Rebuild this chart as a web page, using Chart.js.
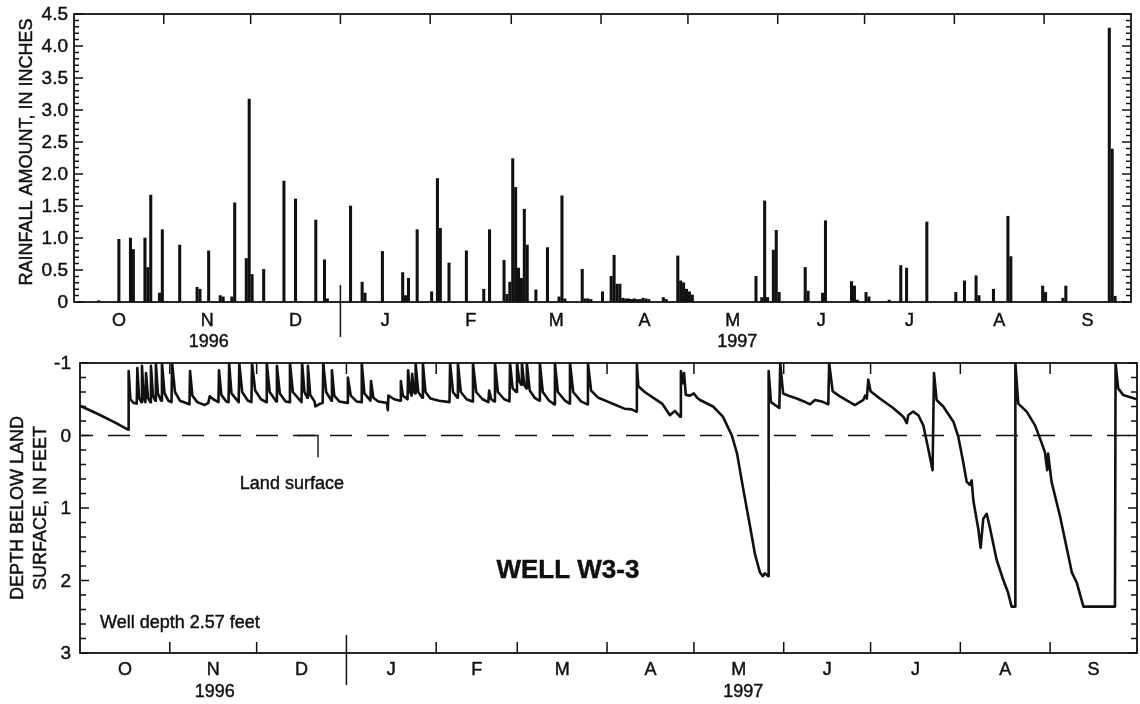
<!DOCTYPE html>
<html>
<head>
<meta charset="utf-8">
<title>Well W3-3</title>
<script src="https://cdn.jsdelivr.net/npm/chart.js"></script>
<style>
  body { margin: 0; background: #fff; }
  #page { position: relative; width: 1140px; height: 704px; }
  canvas { position: absolute; left: 0; }
</style>
</head>
<body>
<div id="page">
  <canvas id="rain" width="1140" height="350" style="top:0"></canvas>
  <canvas id="well" width="1140" height="354" style="top:350px"></canvas>
</div>
<script>
const FONT = '"Liberation Sans", Arial, Helvetica, sans-serif';
const INK = '#111';

// days counted from 1 Oct 1996
const monthLetters = ['O', 'N', 'D', 'J', 'F', 'M', 'A', 'M', 'J', 'J', 'A', 'S'];
const monthStarts = [0, 31, 61, 92, 123, 151, 182, 212, 243, 273, 304, 335, 365];
const yearLabels = ['1996', '1997'];
const yearLabelDays = [46.5, 229];
const newYearDay = 92;

const rainTicks = [0, 0.5, 1, 1.5, 2, 2.5, 3, 3.5, 4, 4.5];
const depthTicks = [-1, 0, 1, 2, 3];

// daily rainfall, inches
const rainDay = [8, 15, 19, 20, 24, 25, 26, 29, 30, 36, 42, 43, 46, 50, 51, 54, 55, 59, 60, 61,
  65, 72, 76, 83, 86, 87, 95, 99, 100, 106, 113, 114, 115, 118, 123, 125, 126, 129, 135, 141,
  143, 148, 149, 150, 151, 152, 153, 154, 155, 156, 159, 163, 167, 168, 169, 175, 176, 177, 178, 182,
  185, 186, 187, 188, 189, 190, 191, 192, 193, 194, 195, 196, 197, 198, 203, 204, 208, 209, 210, 211,
  212, 213, 235, 237, 238, 239, 241, 242, 243, 252, 253, 258, 259, 268, 269, 270, 273, 274, 281, 285,
  287, 294, 304, 307, 311, 312, 317, 322, 323, 334, 335, 341, 342, 357, 358, 359];
const rainInches = [0.02, 0.98, 1.00, 0.82, 1.00, 0.54, 1.67, 0.14, 1.13, 0.89, 0.23, 0.20, 0.80, 0.10, 0.08, 0.08, 1.55, 0.68, 3.17, 0.43,
  0.51, 1.89, 1.61, 1.28, 0.66, 0.05, 1.50, 0.31, 0.14, 0.79, 0.46, 0.10, 0.37, 1.13, 0.16, 1.93, 1.15, 0.61, 0.80, 0.20,
  1.13, 0.65, 0.12, 0.31, 2.24, 1.79, 0.53, 0.37, 1.45, 0.89, 0.19, 0.85, 0.08, 1.66, 0.05, 0.51, 0.05, 0.05, 0.04, 0.16,
  0.40, 0.73, 0.28, 0.28, 0.06, 0.05, 0.05, 0.04, 0.05, 0.04, 0.04, 0.06, 0.05, 0.04, 0.07, 0.04, 0.72, 0.33, 0.30, 0.20,
  0.16, 0.11, 0.40, 0.07, 1.58, 0.07, 0.81, 1.12, 0.15, 0.54, 0.17, 0.14, 1.27, 0.32, 0.25, 0.03, 0.15, 0.08, 0.03, 0.57,
  0.53, 1.25, 0.15, 0.33, 0.41, 0.10, 0.20, 1.34, 0.71, 0.25, 0.15, 0.06, 0.25, 4.28, 2.39, 0.09];

// water level, feet below land surface
const wellDay = [0, 6, 12, 16.6, 16.8, 17.4, 18.5, 19.6, 19.8, 20.4, 21.2, 21.4, 22.0, 22.6, 22.8, 23.5, 24.3, 24.5, 25.2, 26.0,
  26.2, 26.9, 28.0, 28.3, 29.2, 30.5, 31.6, 31.8, 32.8, 34.5, 37.8, 38.0, 38.8, 40.5, 43.0, 44.3, 44.8, 46.0, 47.8, 48.0,
  48.8, 50.5, 51.3, 51.5, 52.3, 54.8, 55.0, 56.0, 58.0, 59.2, 59.4, 60.5, 62.5, 64.3, 64.5, 65.5, 67.8, 68.0, 69.0, 71.0,
  72.3, 72.5, 73.5, 76.5, 76.7, 77.5, 78.5, 78.7, 79.5, 81.0, 81.3, 82.5, 83.8, 84.0, 85.0, 86.8, 87.0, 87.8, 89.5, 92.3,
  92.5, 93.5, 95.5, 97.1, 97.3, 98.2, 100.3, 100.5, 101.3, 103.0, 106.0, 106.3, 106.5, 108.5, 110.6, 110.8, 111.5, 113.1, 113.3, 114.0,
  114.5, 114.7, 115.3, 115.7, 115.9, 116.8, 118.2, 118.4, 119.3, 121.0, 124.0, 127.6, 127.8, 128.8, 130.3, 130.5, 131.5, 133.5, 135.5, 135.7,
  136.8, 139.0, 141.0, 141.3, 142.0, 143.1, 143.3, 144.3, 146.5, 148.3, 148.5, 149.4, 150.7, 150.9, 151.7, 152.4, 152.6, 153.4, 154.1, 154.3,
  155.3, 157.0, 158.6, 158.8, 159.8, 162.0, 163.8, 164.0, 165.0, 167.5, 169.0, 169.2, 170.3, 173.0, 175.2, 175.4, 176.5, 179.0, 182.0, 185.0,
  188.0, 190.5, 192.1, 192.3, 192.8, 195.0, 198.0, 201.0, 203.7, 205.4, 207.2, 207.5, 208.2, 208.6, 209.2, 210.6, 212.0, 213.1, 214.1, 218.6,
  222.0, 225.1, 226.9, 228.9, 231.4, 233.1, 234.8, 235.8, 236.5, 237.6, 237.8, 238.6, 241.5, 241.8, 242.8, 245.2, 247.5, 250.0, 252.1, 253.8,
  256.1, 258.4, 258.7, 259.9, 262.4, 267.6, 270.5, 271.1, 271.7, 272.2, 273.0, 276.2, 280.8, 284.3, 285.5, 286.0, 287.7, 289.5, 291.2, 292.9,
  294.4, 294.9, 295.8, 298.1, 301.6, 303.3, 305.0, 306.2, 307.3, 307.9, 308.5, 310.2, 311.0, 311.9, 313.1, 314.2, 316.5, 318.8, 320.5, 321.7,
  322.9, 323.0, 324.0, 326.9, 329.8, 331.5, 333.2, 334.0, 334.3, 335.5, 338.4, 341.3, 342.5, 344.2, 346.5, 357.4, 357.6, 358.5, 360.2, 365];
const wellDepth = [-0.41, -0.30, -0.18, -0.08, -0.89, -0.50, -0.45, -0.44, -0.93, -0.52, -0.46, -0.96, -0.52, -0.46, -0.86, -0.52, -0.46, -0.96, -0.55, -0.48,
  -1.0, -0.58, -0.48, -1.0, -0.58, -0.48, -0.46, -1.0, -0.60, -0.48, -0.43, -0.89, -0.55, -0.46, -0.42, -0.45, -0.54, -0.50, -0.46, -0.90,
  -0.56, -0.47, -0.46, -1.0, -0.58, -0.46, -1.0, -0.60, -0.48, -0.46, -1.0, -0.62, -0.50, -0.46, -1.0, -0.60, -0.47, -0.96, -0.58, -0.47,
  -0.46, -1.0, -0.60, -0.46, -1.0, -0.60, -0.52, -0.96, -0.56, -0.47, -0.40, -0.43, -0.45, -1.0, -0.60, -0.48, -0.90, -0.55, -0.47, -0.45,
  -0.80, -0.55, -0.47, -0.46, -1.0, -0.58, -0.48, -0.75, -0.52, -0.47, -0.45, -0.35, -0.55, -0.50, -0.48, -0.75, -0.55, -0.50, -0.90, -0.60,
  -0.55, -0.85, -0.60, -0.58, -1.0, -0.60, -0.52, -1.0, -0.60, -0.51, -0.48, -0.46, -1.0, -0.60, -0.52, -1.0, -0.60, -0.50, -0.47, -1.0,
  -0.60, -0.50, -0.46, -0.62, -0.50, -0.47, -1.0, -0.60, -0.50, -0.47, -1.0, -0.65, -0.60, -1.0, -0.75, -0.70, -1.0, -0.70, -0.65, -1.0,
  -0.62, -0.52, -0.48, -1.0, -0.60, -0.48, -0.43, -1.0, -0.60, -0.48, -0.44, -1.0, -0.60, -0.47, -0.43, -1.0, -0.62, -0.52, -0.47, -0.42,
  -0.37, -0.36, -0.33, -0.98, -0.68, -0.60, -0.52, -0.44, -0.28, -0.34, -0.26, -0.89, -0.72, -0.86, -0.56, -0.55, -0.58, -0.52, -0.49, -0.40,
  -0.26, 0.00, 0.25, 0.71, 1.26, 1.64, 1.89, 1.94, 1.90, 1.94, -0.89, -0.46, -0.38, -1.0, -0.58, -0.54, -0.51, -0.47, -0.43, -0.49,
  -0.47, -0.43, -1.0, -0.61, -0.54, -0.42, -0.49, -0.55, -0.51, -0.77, -0.61, -0.51, -0.38, -0.26, -0.17, -0.28, -0.33, -0.28, -0.14, 0.18,
  0.48, -0.86, -0.49, -0.40, -0.19, 0.02, 0.37, 0.64, 0.68, 0.62, 0.90, 1.29, 1.55, 1.15, 1.08, 1.27, 1.71, 1.99, 2.17, 2.36,
  2.36, -1.0, -0.44, -0.33, -0.14, 0.04, 0.23, 0.48, 0.25, 0.64, 1.11, 1.66, 1.89, 2.03, 2.36, 2.36, -1.0, -0.65, -0.56, -0.50];

// land surface leader, in chart units
const leaderDays = [74.9, 82.2, 82.2];
const leaderDepths = [0, 0, 0.3];

const notes = [
  { text: 'Land surface', day: 55.2, depth: 0.67, bold: false },
  { text: 'Well depth 2.57 feet', day: 6.9, depth: 2.58, bold: false },
  { text: 'WELL W3-3', day: 168.5, depth: 1.86, bold: true }
];

// scanned print looks heavy, so give text a hairline outline
function inkText(ctx, s, x, y) {
  ctx.fillText(s, x, y);
  ctx.strokeText(s, x, y);
}

// frame, inward ticks, labels and titles drawn off the chart's own scales
function axesPlugin(o) {
  return {
    id: 'handAxes',
    afterDatasetsDraw(chart) {
      const { ctx, chartArea: a } = chart;
      const x = chart.scales.x, y = chart.scales.y;
      ctx.save();
      ctx.strokeStyle = INK;
      ctx.fillStyle = INK;
      ctx.lineWidth = 1.5;
      ctx.beginPath();
      const n = Math.round((o.yMax - o.yMin) / o.minor);
      for (let i = 0; i <= n; i++) {
        const v = o.yMin + i * o.minor;
        const py = y.getPixelForValue(v);
        const major = Math.abs(v / o.major - Math.round(v / o.major)) < 1e-6;
        const len = major ? o.majorLen : o.minorLen;
        ctx.moveTo(a.left, py); ctx.lineTo(a.left + len, py);
        ctx.moveTo(a.right, py); ctx.lineTo(a.right - len, py);
      }
      monthStarts.slice(1, -1).forEach(d => {
        const px = x.getPixelForValue(d);
        if (o.topTicks) { ctx.moveTo(px, a.top); ctx.lineTo(px, a.top + o.monthLen); }
        if (o.bottomTicks) { ctx.moveTo(px, a.bottom); ctx.lineTo(px, a.bottom - o.monthLen); }
      });
      const nx = x.getPixelForValue(newYearDay);
      ctx.moveTo(nx, a.bottom - o.divUp); ctx.lineTo(nx, a.bottom + o.divDown);
      ctx.stroke();
      ctx.lineWidth = 1.8;
      ctx.strokeRect(a.left, a.top, a.right - a.left, a.bottom - a.top);

      ctx.lineWidth = 0.45;
      ctx.font = '18px ' + FONT;
      ctx.textBaseline = 'middle';
      ctx.textAlign = 'right';
      ctx.font = '19px ' + FONT;
      o.ticks.forEach(v => inkText(ctx, o.fmt(v), a.left - o.labelGap, y.getPixelForValue(v) + 1));
      ctx.font = '18px ' + FONT;
      ctx.textAlign = 'center';
      monthLetters.forEach((m, i) => {
        const px = x.getPixelForValue((monthStarts[i] + monthStarts[i + 1]) / 2);
        inkText(ctx, m, px, a.bottom + o.monthDy);
      });
      yearLabels.forEach((t, i) => inkText(ctx, t, x.getPixelForValue(yearLabelDays[i]), a.bottom + o.yearDy));

      o.title.forEach((line, i) => {
        ctx.save();
        ctx.translate(o.titleX[i], o.titleY);
        ctx.rotate(-Math.PI / 2);
        inkText(ctx, line, 0, 0);
        ctx.restore();
      });

      (o.notes || []).forEach(nt => {
        ctx.font = (nt.bold ? 'bold 26px ' : '18px ') + FONT;
        ctx.textAlign = nt.bold ? 'center' : 'left';
        inkText(ctx, nt.text, x.getPixelForValue(nt.day), y.getPixelForValue(nt.depth));
      });
      ctx.restore();
    }
  };
}

const common = {
  responsive: false,
  animation: false,
  plugins: { legend: { display: false }, tooltip: { enabled: false } }
};

new Chart(document.getElementById('rain'), {
  type: 'bar',
  data: {
    datasets: [{
      data: rainDay.map((d, i) => ({ x: d + 0.5, y: rainInches[i] })),
      backgroundColor: INK,
      borderWidth: 0,
      barThickness: 2.4
    }]
  },
  options: {
    ...common,
    layout: { padding: { left: 74, right: 9, top: 14, bottom: 48 } },
    scales: {
      x: { type: 'linear', min: 0, max: 365, offset: false, display: false },
      y: { min: 0, max: 4.5, display: false }
    }
  },
  plugins: [axesPlugin({
    yMin: 0, yMax: 4.5, minor: 0.1, major: 0.5, minorLen: 5, majorLen: 9,
    monthLen: 10, topTicks: true, bottomTicks: false, divUp: 17, divDown: 35,
    ticks: rainTicks, fmt: v => (v === 0 ? '0' : v.toFixed(1)), labelGap: 6,
    monthDy: 19, yearDy: 40,
    title: ['RAINFALL AMOUNT, IN INCHES'], titleX: [27.5], titleY: 152
  })]
});

new Chart(document.getElementById('well'), {
  type: 'line',
  data: {
    datasets: [
      {
        data: wellDay.map((d, i) => ({ x: d, y: wellDepth[i] })),
        borderColor: INK, borderWidth: 2.6, pointRadius: 0, tension: 0,
        borderJoinStyle: 'round'
      },
      {
        data: [{ x: 0, y: 0 }, { x: 365, y: 0 }],
        borderColor: INK, borderWidth: 1.4, pointRadius: 0,
        borderDash: [22, 15], borderDashOffset: 9
      },
      {
        data: leaderDays.map((d, i) => ({ x: d, y: leaderDepths[i] })),
        borderColor: INK, borderWidth: 1.4, pointRadius: 0
      }
    ]
  },
  options: {
    ...common,
    layout: { padding: { left: 80, right: 3, top: 13, bottom: 51 } },
    scales: {
      x: { type: 'linear', min: 0, max: 365, display: false },
      y: { min: -1, max: 3, reverse: true, display: false }
    }
  },
  plugins: [axesPlugin({
    yMin: -1, yMax: 3, minor: 0.2, major: 1, minorLen: 6, majorLen: 9,
    monthLen: 11, topTicks: true, bottomTicks: true, divUp: 18, divDown: 32,
    ticks: depthTicks, fmt: v => String(v), labelGap: 9,
    monthDy: 17, yearDy: 39,
    title: ['DEPTH BELOW LAND', 'SURFACE, IN FEET'], titleX: [18.5, 41.5], titleY: 158,
    notes: notes
  })]
});
</script>
</body>
</html>
